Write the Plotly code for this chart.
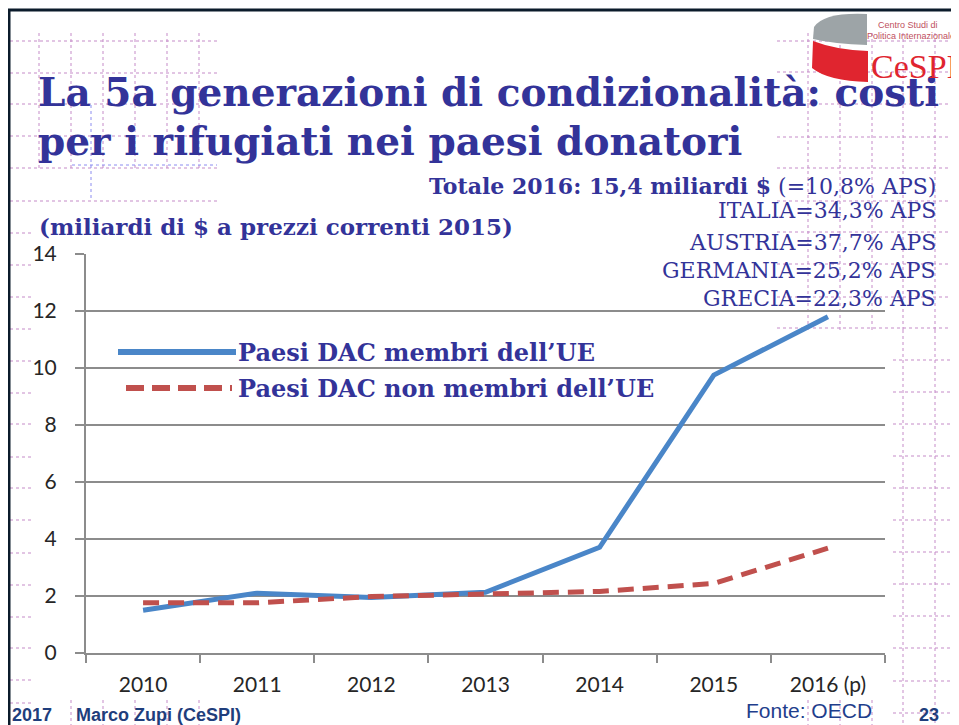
import plotly.graph_objects as go

# ---------------- data ----------------
categories = ["2010", "2011", "2012", "2013", "2014", "2015", "2016 (p)"]
ue_members = [1.50, 2.10, 1.95, 2.13, 3.71, 9.75, 11.80]
non_ue_members = [1.76, 1.76, 1.98, 2.06, 2.16, 2.44, 3.68]
y_ticks = [0, 2, 4, 6, 8, 10, 12, 14]

series_names = ["Paesi DAC membri dell\u2019UE", "Paesi DAC non membri dell\u2019UE"]
title_lines = ["La 5a generazioni di condizionalità: costi",
               "per i rifugiati nei paesi donatori"]
total_bold = "Totale 2016: 15,4 miliardi $"
total_reg = " (=10,8% APS)"
unit_label = "(miliardi di $ a prezzi correnti 2015)"
country_notes = ["ITALIA=34,3% APS", "AUSTRIA=37,7% APS",
                 "GERMANIA=25,2% APS", "GRECIA=22,3% APS"]

# ---------------- geometry helpers ----------------
# the page body has an 8px margin, so the figure is drawn 8px in/down
OFF = 8
W, H = 959 - OFF, 725 - OFF
PLOT_L, PLOT_R, PLOT_T, PLOT_B = 86, 885, 254, 653  # in window pixels
L, R = PLOT_L - OFF, W - (PLOT_R - OFF)
T, B = PLOT_T - OFF, H - (PLOT_B - OFF)
PW, PH = PLOT_R - PLOT_L, PLOT_B - PLOT_T


def px(x):
    return (x - PLOT_L) / PW


def py(y):
    return (PLOT_B - y) / PH


BLUE_TXT = "#333399"
BLUE = "#4A86C8"
RED = "#C0504D"
GRID = "#8C8C8C"
PINK = "#C58BC8"

fig = go.Figure()
fig.add_trace(go.Scatter(x=categories, y=ue_members, mode="lines",
                         name=series_names[0],
                         line=dict(color=BLUE, width=5), showlegend=False))
fig.add_trace(go.Scatter(x=categories, y=non_ue_members, mode="lines",
                         name=series_names[1],
                         line=dict(color=RED, width=5, dash="16px,9px"),
                         showlegend=False))

shapes = []


def hline(x0, x1, y, color, width=1, dash="solid", layer="below"):
    shapes.append(dict(type="line", xref="paper", yref="paper",
                       x0=px(x0), x1=px(x1), y0=py(y), y1=py(y),
                       line=dict(color=color, width=width, dash=dash), layer=layer))


def vline(x, y0, y1, color, width=1, dash="solid", layer="below"):
    shapes.append(dict(type="line", xref="paper", yref="paper",
                       x0=px(x), x1=px(x), y0=py(y0), y1=py(y1),
                       line=dict(color=color, width=width, dash=dash), layer=layer))


# decorative dotted grid (slide template)
for x in [39, 71, 103, 135, 167, 199]:
    vline(x, 33, 168, PINK, 1, "dot")
for y in [41, 73, 104, 136, 168, 201]:
    hline(10, 217, y, PINK, 1, "dot")
for y in [233, 265, 297, 329, 361, 393, 424, 457, 488, 520, 553, 585, 617, 648, 680, 703]:
    hline(10, 32, y, PINK, 1, "dot")
vline(91, 105, 200, "#8C8CF0", 1, "dot")
hline(72, 217, 165, "#8C8CF0", 1, "dot")
for x in [808, 840, 872, 903, 935]:
    vline(x, 33, 330, PINK, 1, "dot")
for y in [41, 72, 104, 137, 168, 201, 232, 264, 297, 328]:
    hline(777, 959, y, PINK, 1, "dot")
for x in [903, 935]:
    vline(x, 330, 725, PINK, 1, "dot")
for y in [360, 392, 424, 456, 488, 520, 552, 584, 616, 648, 681, 713]:
    hline(893, 959, y, PINK, 1, "dot")
for x in [808, 840, 872]:
    vline(x, 700, 725, PINK, 1, "dot")
for x in [71, 103, 135, 167, 199]:
    vline(x, 700, 725, PINK, 1, "dot")

# slide border
hline(6, 959, 10, "#0B1B2B", 3)
vline(9, 9, 725, "#0B1B2B", 3)


def path(points):
    out = []
    for cmd, pts in points:
        coords = " ".join(f"{px(a):.5f},{py(b):.5f}" for a, b in pts)
        out.append(f"{cmd} {coords}")
    return " ".join(out) + " Z"


# logo ribbon
shapes.append(dict(type="path", xref="paper", yref="paper",
                   path=path([("M", [(814, 27)]), ("Q", [(824, 12), (867, 14)]),
                              ("L", [(867, 45)]), ("Q", [(834, 44), (813, 39)])]),
                   fillcolor="#9DA4A7", line=dict(width=0)))
shapes.append(dict(type="path", xref="paper", yref="paper",
                   path=path([("M", [(813, 41)]), ("Q", [(836, 50), (868, 51)]),
                              ("L", [(868, 82)]), ("Q", [(828, 81), (812, 68)])]),
                   fillcolor="#E0252F", line=dict(width=0)))

# legend samples
hline(118, 236, 352, BLUE, 6, layer="above")
hline(126, 232, 388, RED, 6, "18px,8px", layer="above")

annotations = []


def text(x, y, s, size, color, family, xanchor="left", yanchor="middle"):
    annotations.append(dict(xref="paper", yref="paper", x=px(x), y=py(y), text=s,
                            showarrow=False, xanchor=xanchor, yanchor=yanchor,
                            font=dict(family=family, size=size, color=color)))


SERIF = "DejaVu Serif"
text(36, 92, f"<b>{title_lines[0]}</b>", 39, BLUE_TXT, SERIF)
text(36, 141, f"<b>{title_lines[1]}</b>", 39, BLUE_TXT, SERIF)
text(938, 186, f"<b>{total_bold}</b>{total_reg}", 22, BLUE_TXT, SERIF, "right")
text(37, 226, f"<b>{unit_label}</b>", 23, BLUE_TXT, SERIF)
for yy, s in zip([211, 242, 270, 298], country_notes):
    text(938, yy, s, 22, BLUE_TXT, SERIF, "right")
text(236, 352, f"<b>{series_names[0]}</b>", 24, BLUE_TXT, SERIF)
text(236, 388, f"<b>{series_names[1]}</b>", 24, BLUE_TXT, SERIF)

# logo text
text(908, 25, "Centro Studi di", 9, "#C0505E", "Liberation Sans", "center")
text(911, 36, "Politica Internazionale", 9, "#C0505E", "Liberation Sans", "center")
text(869, 66, "CeSPI", 34, "#E0252F", "Liberation Serif")

# footer
FOOT = "#1F3E7C"
text(10, 715, "<b>2017</b>", 18, FOOT, "Liberation Sans")
text(74, 715, "<b>Marco Zupi (CeSPI)</b>", 18, FOOT, "Liberation Sans")
text(874, 710, "Fonte: OECD", 21, "#1F3E8C", "Liberation Sans", "right")
text(929, 715, "<b>23</b>", 18, FOOT, "Liberation Sans", "center")

fig.update_layout(
    width=W, height=H,
    margin=dict(l=L, r=R, t=T, b=B, pad=0),
    paper_bgcolor="white", plot_bgcolor="white",
    showlegend=False,
    shapes=shapes, annotations=annotations,
    xaxis=dict(type="category", range=[-0.5, 6.5], showgrid=False, zeroline=False,
               showline=True, linecolor=GRID, linewidth=2,
               ticks="outside", tickson="boundaries", ticklen=8, tickwidth=2,
               tickcolor=GRID, ticklabelstandoff=12,
               tickfont=dict(family="Lato", size=21, color="#262626")),
    yaxis=dict(range=[0, 14], tickvals=y_ticks, showgrid=True, gridcolor=GRID,
               gridwidth=2, zeroline=False, showline=True, linecolor=GRID,
               linewidth=2, ticks="outside", ticklen=9, tickwidth=2, tickcolor=GRID,
               ticklabelstandoff=14,
               tickfont=dict(family="Lato", size=21, color="#262626")),
)

fig.write_html("out.html")
